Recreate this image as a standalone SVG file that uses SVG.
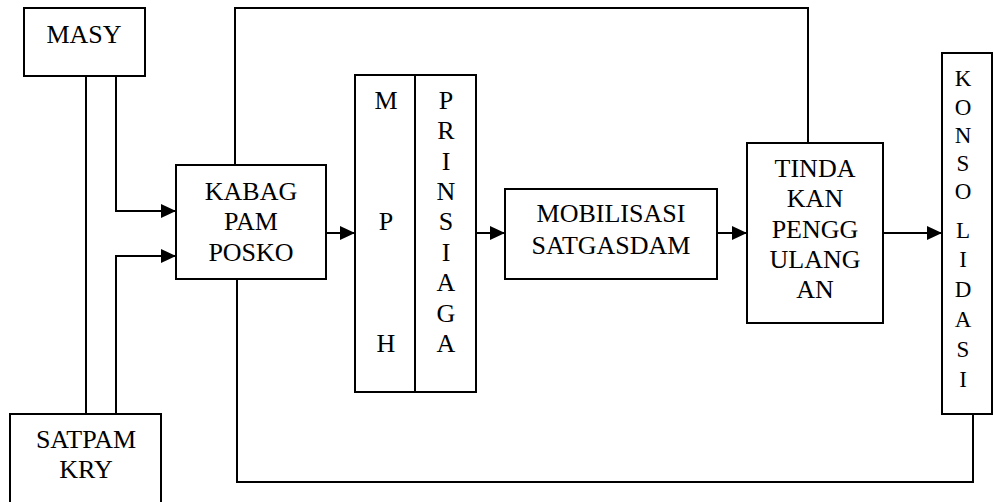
<svg xmlns="http://www.w3.org/2000/svg" width="993" height="502" viewBox="0 0 993 502">
  <defs>
    <marker id="arrow" markerUnits="userSpaceOnUse" markerWidth="15" markerHeight="14" refX="15" refY="7" orient="auto">
      <path d="M0,0 L15,7 L0,14 Z" fill="#000"/>
    </marker>
    <style>
      .box { fill: #fff; stroke: #000; stroke-width: 2; }
      .line { fill: none; stroke: #000; stroke-width: 2; }
      .arr { marker-end: url(#arrow); }
      text { font-family: "Liberation Serif", "Times New Roman", serif; font-size: 26px; fill: #000; text-anchor: middle; }
      .small { font-size: 23px; }
    </style>
  </defs>
  <rect width="993" height="502" fill="#fff"/>

  <!-- flow lines and arrows -->
  <g id="connectors">
    <polyline class="line arr" points="116,76 116,211 176,211"/>
    <polyline class="line" points="86,76 86,414"/>
    <polyline class="line arr" points="116,414 116,256 176,256"/>
    <line class="line arr" x1="326" y1="233" x2="355" y2="233"/>
    <line class="line arr" x1="476" y1="233" x2="505" y2="233"/>
    <line class="line arr" x1="717" y1="233" x2="747" y2="233"/>
    <line class="line arr" x1="883" y1="233" x2="942" y2="233"/>
    <polyline class="line" points="235,165 235,8 808,8 808,143"/>
    <polyline class="line" points="237,279 237,482 973,482 973,414"/>
  </g>

  <g id="masy">
    <rect class="box" x="24" y="8" width="121" height="68"/>
    <text x="84" y="43">MASY</text>
  </g>

  <g id="satpam-kry">
    <rect class="box" x="10" y="414" width="151" height="100"/>
    <text x="86" y="448">SATPAM</text>
    <text x="86" y="478">KRY</text>
  </g>

  <g id="kabag-pam-posko">
    <rect class="box" x="176" y="165" width="150" height="114"/>
    <text x="251" y="200">KABAG</text>
    <text x="251" y="230">PAM</text>
    <text x="251" y="261">POSKO</text>
  </g>

  <g id="mph-prinsiaga">
    <rect class="box" x="355" y="75" width="121" height="317"/>
    <line class="line" x1="415" y1="75" x2="415" y2="392"/>
    <text x="386" y="109">M</text>
    <text x="386" y="230">P</text>
    <text x="386" y="352">H</text>
    <text x="446" y="109">P</text>
    <text x="446" y="139">R</text>
    <text x="446" y="170">I</text>
    <text x="446" y="200">N</text>
    <text x="446" y="230">S</text>
    <text x="446" y="261">I</text>
    <text x="446" y="291">A</text>
    <text x="446" y="322">G</text>
    <text x="446" y="352">A</text>
  </g>

  <g id="mobilisasi-satgasdam">
    <rect class="box" x="505" y="189" width="212" height="90"/>
    <text x="611" y="222">MOBILISASI</text>
    <text x="611" y="254">SATGASDAM</text>
  </g>

  <g id="tindakan-pengulangan">
    <rect class="box" x="747" y="143" width="136" height="180"/>
    <text x="815" y="177">TINDA</text>
    <text x="815" y="207">KAN</text>
    <text x="815" y="238">PENGG</text>
    <text x="815" y="268">ULANG</text>
    <text x="815" y="298">AN</text>
  </g>

  <g id="konsolidasi">
    <rect class="box" x="942" y="53" width="50" height="361"/>
    <text class="small" x="963" y="86">K</text>
    <text class="small" x="963" y="115">O</text>
    <text class="small" x="963" y="143">N</text>
    <text class="small" x="963" y="171">S</text>
    <text class="small" x="963" y="199">O</text>
    <text class="small" x="963" y="238">L</text>
    <text class="small" x="963" y="267">I</text>
    <text class="small" x="963" y="297">D</text>
    <text class="small" x="963" y="327">A</text>
    <text class="small" x="963" y="357">S</text>
    <text class="small" x="963" y="387">I</text>
  </g>
</svg>
